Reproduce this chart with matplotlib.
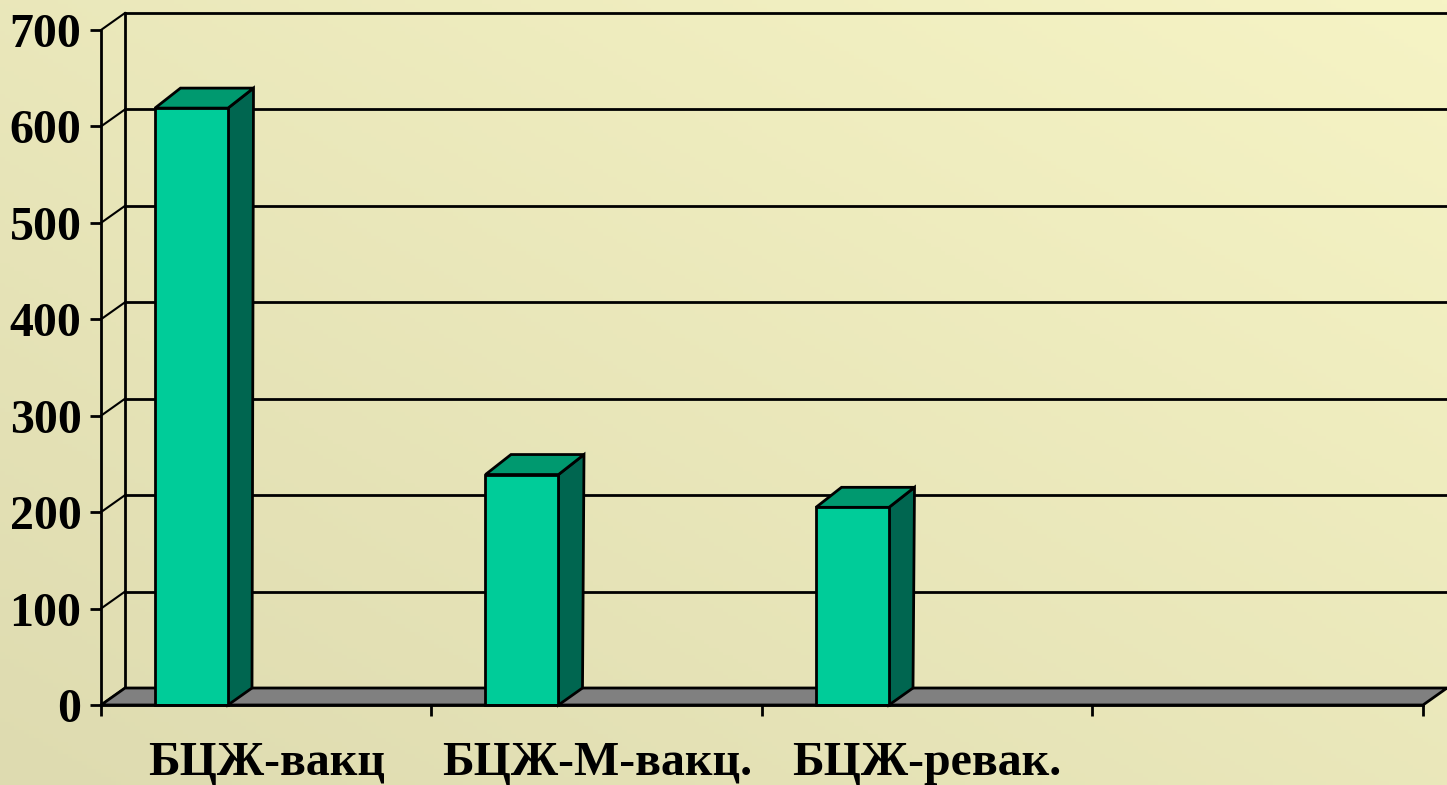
import numpy as np
import matplotlib.pyplot as plt
from matplotlib.patches import Polygon

# data
categories = ["БЦЖ-вакц", "БЦЖ-М-вакц.", "БЦЖ-ревак.", ""]
values = [619, 239, 205, None]
yticks = [0, 100, 200, 300, 400, 500, 600, 700]

W, H = 1447, 785
fig = plt.figure(figsize=(W / 100, H / 100), dpi=100)

# background gradient, darker bottom-left to lighter top-right
bg = fig.add_axes([0, 0, 1, 1], zorder=-10)
gx, gy = np.meshgrid(np.linspace(0, 1, 300), np.linspace(0, 1, 200))
t = (gx + gy) / 2
c0 = np.array([222, 219, 176]) / 255
c1 = np.array([246, 244, 197]) / 255
img = c0[None, None, :] * (1 - t[..., None]) + c1[None, None, :] * t[..., None]
bg.imshow(img, origin="lower", extent=[0, 1, 0, 1], aspect="auto")
bg.axis("off")

# plot area = front plane of the 3D box
left, right, top, bottom = 101, 1423, 30, 705
ax = fig.add_axes([left / W, 1 - bottom / H, (right - left) / W, (bottom - top) / H])
ax.patch.set_alpha(0)
ax.set_xlim(0, 4)
ax.set_ylim(0, 700)

pxx = 4 / (right - left)      # data units per pixel in x
pxy = 700 / (bottom - top)    # data units per pixel in y
DX, DY = 24 * pxx, 17 * pxy   # depth of the box

lw = 2.0
# back wall gridlines and left wall diagonals
for v in yticks:
    ax.plot([DX, 4 + DX + 0.01], [v + DY, v + DY], color="black", lw=lw, clip_on=False, zorder=1)
    ax.plot([0, DX], [v, v + DY], color="black", lw=lw * 0.75, clip_on=False, zorder=1)
ax.plot([DX, DX], [DY, 700 + DY], color="black", lw=lw, clip_on=False, zorder=1)

# floor
floor = Polygon([(0, 0), (4, 0), (4 + DX, DY), (DX, DY)], closed=True,
                facecolor="#808080", edgecolor="black", lw=lw, clip_on=False, zorder=2)
ax.add_patch(floor)

# 3D bars
off = 54 * pxx
bw = 73 * pxx
tdx, tdy = 25.5 * pxx, 20 * pxy
bdx, bdy = 24 * pxx, 17 * pxy
for i, v in enumerate(values):
    if v is None:
        continue
    x0 = i + off
    x1 = x0 + bw
    side = Polygon([(x1, 0), (x1, v), (x1 + tdx, v + tdy), (x1 + bdx, bdy)], closed=True,
                   facecolor="#006650", edgecolor="black", lw=lw, clip_on=False, zorder=3)
    topf = Polygon([(x0, v), (x1, v), (x1 + tdx, v + tdy), (x0 + tdx, v + tdy)], closed=True,
                   facecolor="#00996f", edgecolor="black", lw=lw, clip_on=False, zorder=3)
    front = Polygon([(x0, 0), (x1, 0), (x1, v), (x0, v)], closed=True,
                    facecolor="#00cc99", edgecolor="black", lw=lw, clip_on=False, zorder=4)
    ax.add_patch(side)
    ax.add_patch(topf)
    ax.add_patch(front)

# axes and ticks
for s in ["top", "right"]:
    ax.spines[s].set_visible(False)
ax.spines["left"].set_linewidth(lw)
ax.spines["bottom"].set_linewidth(lw)
ax.spines["bottom"].set_zorder(5)

font = dict(family="Liberation Serif", weight="bold", size=34.5)
ax.set_yticks(yticks)
ax.set_yticklabels([str(v) for v in yticks], fontdict=font)
ax.tick_params(axis="y", direction="out", length=8, width=lw, pad=6)

ax.set_xticks([0, 1, 2, 3, 4])
ax.set_xticklabels([])
ax.tick_params(axis="x", which="major", direction="out", length=8, width=lw)
ax.set_xticks([0.5, 1.5, 2.5, 3.5], minor=True)
ax.set_xticklabels(categories, minor=True, fontdict=font)
ax.tick_params(axis="x", which="minor", length=0, pad=26)

fig.savefig("out.png", dpi=100)
